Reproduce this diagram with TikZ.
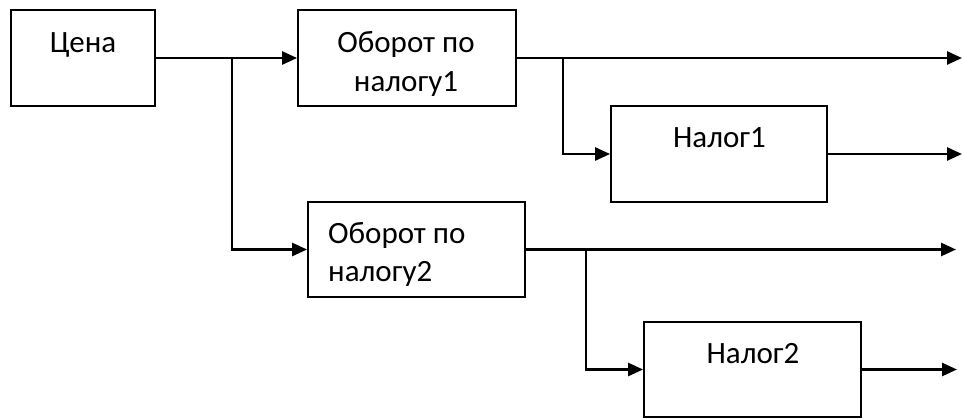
\documentclass[tikz,border=0pt]{standalone}
\usepackage{fontspec}
\setmainfont{Carlito}
\usetikzlibrary{arrows.meta}
\begin{document}
\begin{tikzpicture}[x=1pt,y=-1pt,
  box/.style={draw,line width=1.8pt,inner sep=0pt},
  conn/.style={line width=2.6pt,-{Triangle[length=15pt,width=13pt]}},
  plain/.style={line width=2.6pt},
  txt/.style={inner sep=0pt,anchor=base,font=\fontsize{31}{40}\selectfont}]
\useasboundingbox (0,0) rectangle (962,418);
% boxes
\node[box,minimum width=144pt,minimum height=96pt] (cena) at (83,58) {};
\node[box,minimum width=218pt,minimum height=96pt] (ob1) at (407,58) {};
\node[box,minimum width=216pt,minimum height=96pt] (n1) at (719,154) {};
\node[box,minimum width=217pt,minimum height=95pt] (ob2) at (416.5,249.5) {};
\node[box,minimum width=217pt,minimum height=95pt] (n2) at (752.5,369.5) {};
% texts
\node[txt] (tcena) at (83,52) {Цена};
\node[txt] (tob1a) at (406,52) {Оборот по};
\node[txt] (tob1b) at (406,91) {налогу1};
\node[txt] (tn1) at (719.5,147) {Налог1};
\node[txt,anchor=base west] (tob2a) at (328,243) {Оборот по};
\node[txt,anchor=base west] (tob2b) at (328,281) {налогу2};
\node[txt] (tn2) at (753,363) {Налог2};
% junctions and ends
\coordinate (j1) at (232,58);
\coordinate (j2) at (563,58);
\coordinate (j3) at (586,250);
\coordinate (e1) at (962,58);
\coordinate (e2) at (962,153);
\coordinate (e3) at (956,250);
\coordinate (e4) at (957,371);
% connectors
\draw[conn] (cena.east) -- (ob1.west);
\draw[conn] (j1) |- (ob2.west);
\draw[conn] (ob1.east) -- (e1);
\draw[conn] (j2) |- (n1.west);
\draw[conn] (n1.east) -- (e2 |- n1.east);
\draw[conn] (ob2.east) -- (e3 |- ob2.east);
\draw[conn] (j3) |- (n2.west);
\draw[conn] (n2.east) -- (e4 |- n2.east);
\end{tikzpicture}
\end{document}
